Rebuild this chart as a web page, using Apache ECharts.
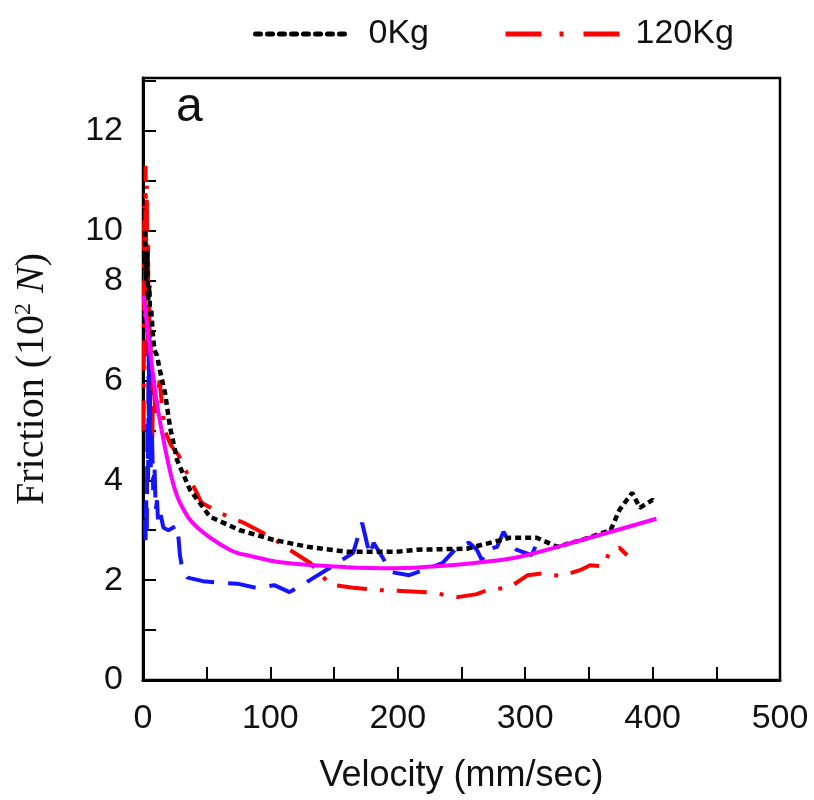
<!DOCTYPE html>
<html>
<head>
<meta charset="utf-8">
<script src="https://cdn.jsdelivr.net/npm/echarts@6/dist/echarts.min.js"></script>
<style>html,body{margin:0;padding:0;background:#fff}#c{width:814px;height:800px}</style>
</head>
<body>
<div id="c"></div>
<script>
// ---- data (velocity mm/sec, friction 10^2 N) ----
var blackV = [1.5, 2.5, 3.2, 4, 5, 5.5, 6.5, 7.8, 9, 11, 13.3, 17.3, 21.2, 26.7, 36.9, 52.6, 76, 102, 129, 160, 199, 215, 254, 288, 309, 325, 345, 367, 374, 384, 390, 400, 403];
var blackY = [9.0, 8.0, 8.6, 7.6, 7.9, 7.3, 7.4, 6.9, 6.6, 6.5, 6.2, 5.75, 5.07, 4.41, 3.81, 3.27, 3.0, 2.81, 2.67, 2.57, 2.57, 2.61, 2.63, 2.85, 2.85, 2.67, 2.81, 3.0, 3.41, 3.75, 3.45, 3.61, 3.55];

var redV = [0.5, 1, 1.5, 2, 2.5, 3, 3.5, 4, 4.5, 5, 5.5, 6, 7, 8, 10, 13, 17, 22, 28, 34.5, 46, 60, 79, 100, 115, 131, 147, 165, 184, 207, 227, 247, 262, 270, 288, 302, 315, 328, 343, 351, 361, 367, 374, 380];
var redY = [5.0, 9.5, 7.2, 10.3, 8.6, 9.9, 6.4, 8.8, 4.6, 7.6, 5.4, 6.8, 4.4, 6.0, 5.3, 6.0, 5.0, 4.7, 4.5, 4.15, 3.55, 3.35, 3.15, 2.87, 2.61, 2.35, 1.91, 1.85, 1.8, 1.78, 1.75, 1.66, 1.72, 1.8, 1.86, 2.1, 2.14, 2.08, 2.2, 2.3, 2.28, 2.6, 2.65, 2.5];

var blueV = [1.5, 2, 2.5, 3, 3.5, 4, 4.5, 5, 5.5, 6, 7, 8, 9, 10, 11, 12, 14, 16, 20, 27, 29, 31, 35, 47, 60, 74, 90, 103, 115, 131, 150, 165, 172, 178, 181, 195, 209, 235, 247, 256, 262, 266, 270, 278, 283, 288, 293, 305, 308];
var blueY = [3.2, 2.8, 3.6, 3.0, 5.2, 4.0, 6.9, 4.5, 5.8, 4.2, 5.0, 3.8, 4.3, 3.4, 3.6, 3.1, 3.3, 3.05, 3.0, 3.1, 2.5, 2.2, 2.05, 1.98, 1.95, 1.93, 1.84, 1.9, 1.76, 2.0, 2.3, 2.55, 3.15, 2.5, 2.75, 2.16, 2.1, 2.34, 2.67, 2.75, 2.61, 2.4, 2.61, 2.67, 2.97, 2.75, 2.61, 2.5, 2.67];

var fitV = [0.5, 5.5, 10, 15, 23.5, 30, 42, 68, 85, 108, 160, 199, 241, 265, 294, 345, 403];
var fitY = [7.7, 6.61, 5.7, 4.95, 3.95, 3.5, 3.07, 2.61, 2.48, 2.36, 2.26, 2.24, 2.3, 2.36, 2.46, 2.81, 3.23];

// tick labels as printed on the reference's y axis (value position -> text)
var yTickValues = [0, 2, 4, 6, 8, 9, 11];
var yTickLabels = ['0', '2', '4', '6', '8', '10', '12'];
var xTickLabels = [0, 100, 200, 300, 400, 500];

function pairs(xs, ys) { return xs.map(function (x, i) { return [x, ys[i]]; }); }

var chart = echarts.init(document.getElementById('c'), null, { renderer: 'canvas' });
var sans = 'Liberation Sans, Arial, sans-serif';
var serif = 'Liberation Serif, Times New Roman, serif';

chart.setOption({
  animation: false,
  backgroundColor: '#fff',
  grid: { left: 143, right: 34, top: 78, bottom: 120, show: true, borderColor: '#000', borderWidth: 2.5, backgroundColor: 'transparent' },
  legend: [
    { data: ['0Kg'], left: 248, top: 12, itemWidth: 92, itemHeight: 16,
      itemStyle: { opacity: 0 }, lineStyle: { width: 5, type: [5, 7], cap: 'round' },
      textStyle: { fontSize: 34, fontFamily: sans, color: '#111', padding: [0, 0, 0, 16] } },
    { data: ['120Kg'], left: 498, top: 12, itemWidth: 115, itemHeight: 16,
      itemStyle: { opacity: 0 }, lineStyle: { width: 5, type: [36, 18, 4, 20] },
      textStyle: { fontSize: 34, fontFamily: sans, color: '#111', padding: [0, 0, 0, 10] } }
  ],
  xAxis: {
    type: 'value', min: 0, max: 500, interval: 50,
    name: 'Velocity (mm/sec)', nameLocation: 'middle', nameGap: 78,
    nameTextStyle: { fontSize: 36, fontFamily: sans, color: '#111' },
    axisLine: { show: true, lineStyle: { color: '#000', width: 3 } },
    axisTick: { show: true, inside: true, length: 13, lineStyle: { color: '#000', width: 2 } },
    axisLabel: { fontSize: 34, fontFamily: sans, color: '#111', margin: 22,
      formatter: function (v) { return xTickLabels.indexOf(v) >= 0 ? String(v) : ''; } },
    splitLine: { show: false }
  },
  yAxis: {
    type: 'value', min: 0, max: 12.06, interval: 1,
    name: 'Friction (10{sup|2} {it|N})', nameLocation: 'middle', nameGap: 91, nameRotate: 90,
    nameTextStyle: { fontSize: 40, fontFamily: serif, color: '#111',
      rich: { sup: { fontSize: 24, fontFamily: serif, color: '#111', padding: [0, 0, 16, 0] },
              it: { fontSize: 40, fontFamily: serif, fontStyle: 'italic', color: '#111' } } },
    axisLine: { show: true, lineStyle: { color: '#000', width: 3 } },
    axisTick: { show: true, inside: true, length: 13, lineStyle: { color: '#000', width: 2 } },
    axisLabel: { fontSize: 34, fontFamily: sans, color: '#111', margin: 20,
      formatter: function (v) {
        for (var i = 0; i < yTickValues.length; i++) { if (Math.abs(v - yTickValues[i]) < 1e-6) return yTickLabels[i]; }
        return '';
      } },
    splitLine: { show: false }
  },
  graphic: [
    { type: 'text', left: 176, top: 84, style: { text: 'a', fontSize: 48, fontFamily: sans, fill: '#111' } }
  ],
  series: [
    { name: '120Kg', type: 'line', data: pairs(redV, redY), showSymbol: false, symbol: 'none',
      lineStyle: { color: '#ff0000', width: 4, type: [30, 13, 4, 13] }, itemStyle: { color: '#ff0000' }, z: 2 },
    { name: 'blue', type: 'line', data: pairs(blueV, blueY), showSymbol: false, symbol: 'none',
      lineStyle: { color: '#1414ff', width: 4, type: [28, 14] }, itemStyle: { color: '#1414ff' }, z: 3 },
    { name: '0Kg', type: 'line', data: pairs(blackV, blackY), showSymbol: false, symbol: 'none',
      lineStyle: { color: '#000', width: 4.5, type: [6, 4] }, itemStyle: { color: '#000' }, z: 4 },
    { name: 'fit', type: 'line', data: pairs(fitV, fitY), showSymbol: false, symbol: 'none', smooth: 0.4,
      lineStyle: { color: '#ff00ff', width: 4 }, itemStyle: { color: '#ff00ff' }, z: 5 }
  ]
});
</script>
</body>
</html>
